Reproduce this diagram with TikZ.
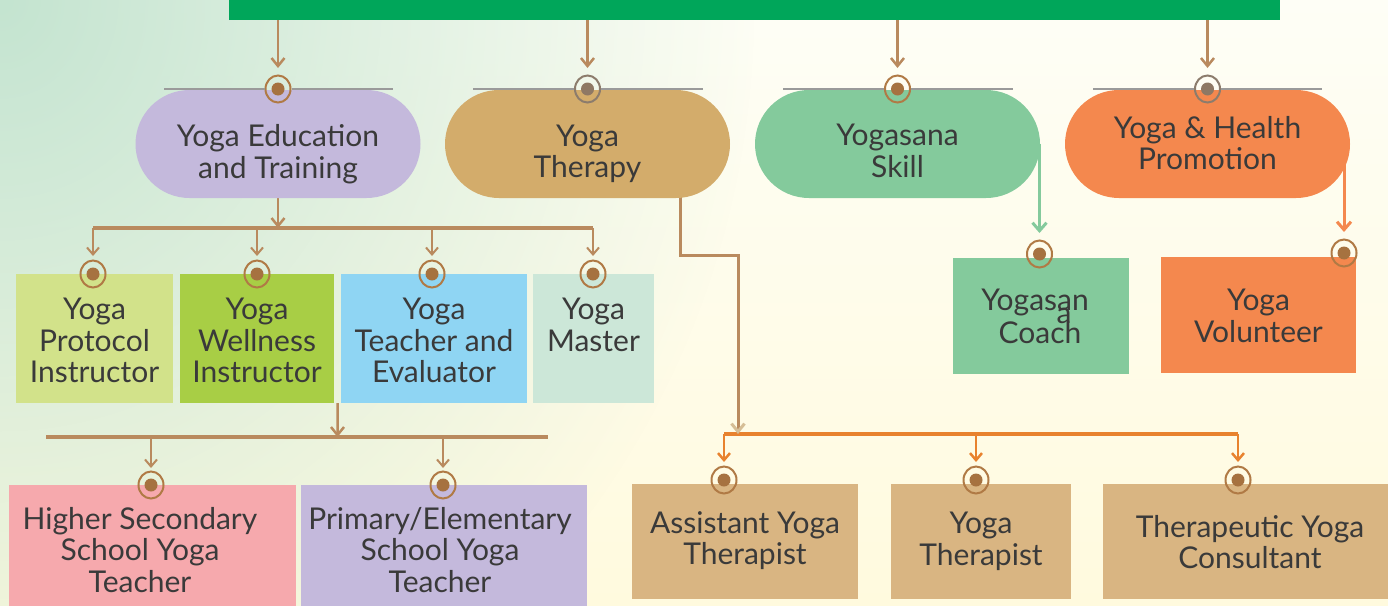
\documentclass[tikz,border=0pt]{standalone}
\usepackage{fontspec}
\setmainfont{Lato}
\usetikzlibrary{arrows.meta,shapes.geometric,calc,fadings}
\definecolor{bannerc}{RGB}{0,166,90}
\definecolor{bgtop}{RGB}{254,254,246}
\definecolor{bgbot}{RGB}{255,250,222}
\definecolor{bggreen}{RGB}{196,228,208}
\definecolor{cLav}{RGB}{196,185,220}
\definecolor{cTan}{RGB}{211,172,107}
\definecolor{cMint}{RGB}{132,202,156}
\definecolor{cOrng}{RGB}{244,136,78}
\definecolor{cProt}{RGB}{210,226,138}
\definecolor{cWell}{RGB}{168,206,69}
\definecolor{cTeach}{RGB}{143,213,243}
\definecolor{cMast}{RGB}{204,231,216}
\definecolor{cPink}{RGB}{246,169,173}
\definecolor{cThBox}{RGB}{217,181,130}
\definecolor{brn}{RGB}{185,138,94}
\definecolor{obus}{RGB}{232,130,46}
\definecolor{ringc}{RGB}{176,122,69}
\definecolor{dotc}{RGB}{166,114,64}
\definecolor{ringg}{RGB}{140,124,108}
\definecolor{dotg}{RGB}{142,120,100}
\definecolor{grayl}{RGB}{154,154,154}
\definecolor{txtc}{RGB}{58,58,58}
\definecolor{tipl}{RGB}{214,190,150}
\pgfdeclarelayer{bglayer}
\pgfdeclarelayer{connlayer}
\pgfsetlayers{bglayer,connlayer,main}
\tikzfading[name=cornerfade, inner color=transparent!0, outer color=transparent!100]
\tikzset{
  pillshape/.style={rounded corners=54pt, minimum width=285pt, minimum height=108pt, inner sep=0pt},
  boxshape/.style={inner sep=0pt},
  lbl/.style={font=\fontsize{30}{31.5}\selectfont, text=txtc, align=center, inner sep=0pt},
  ring/.style={ellipse, draw=ringc, line width=2pt, minimum width=25pt, minimum height=27pt, inner sep=0pt,
    path picture={\fill[dotc] (path picture bounding box.center) circle (6.5pt);}},
  ringgr/.style={ellipse, draw=ringg, line width=2pt, minimum width=25pt, minimum height=27pt, inner sep=0pt,
    path picture={\fill[dotg] (path picture bounding box.center) circle (6.5pt);}},
  arr/.style={draw=brn, line width=2.5pt, -{Straight Barb[length=8pt,width=13pt]}},
  thinarr/.style={draw=brn, line width=2pt, -{Straight Barb[length=7pt,width=12pt]}},
  oarr/.style={draw=obus, line width=2.5pt, -{Straight Barb[length=7pt,width=12pt]}},
  garr/.style={draw=cMint, line width=3pt, -{Straight Barb[length=8pt,width=14pt]}},
  orarr/.style={draw=cOrng, line width=3pt, -{Straight Barb[length=8pt,width=14pt]}},
  bus/.style={draw=brn, line width=4pt},
  obusline/.style={draw=obus, line width=4pt},
  gline/.style={draw=grayl, line width=2pt},
}
\begin{document}
\begin{tikzpicture}[x=1pt,y=-1pt]
\useasboundingbox (0,0) rectangle (1388,605);
\begin{pgfonlayer}{bglayer}
  \clip (0,0) rectangle (1388,605);
  \shade[top color=bgtop,bottom color=bgbot] (0,0) rectangle (1388,605);
  \fill[bggreen,path fading=cornerfade] (0,0) ellipse (760 and 820);
\end{pgfonlayer}
\clip (0,0) rectangle (1388,605);

% banner
\node[fill=bannerc, minimum width=1051pt, minimum height=40pt, inner sep=0pt] (banner) at (754.5,0) {};

% top pills
\node[pillshape, fill=cLav]  (p1) at (278,144) {};
\node[pillshape, fill=cTan]  (p2) at (587.5,144) {};
\node[pillshape, fill=cMint] (p3) at (897.5,144) {};
\node[pillshape, fill=cOrng] (p4) at (1207.5,144) {};
\node[lbl] (p1t) at (278,154) {Yoga Education\\and Training};
\node[lbl] (p2t) at (587.5,154) {Yoga\\Therapy};
\node[lbl] (p3t) at (897.5,151) {Yogasana\\Skill};
\node[lbl] (p4t) at (1207.5,143) {Yoga \& Health\\Promotion};

% top rings and grey lines
\node[ring]   (r1) at (278,89) {};
\node[ringgr] (r2) at (587.5,89) {};
\node[ring]   (r3) at (897.5,89) {};
\node[ringgr] (r4) at (1207.5,89) {};
\coordinate (g1l) at (164,89);  \coordinate (g1r) at (393,89);
\coordinate (g2l) at (473,89);  \coordinate (g2r) at (703,89);
\coordinate (g3l) at (783,89);  \coordinate (g3r) at (1013,89);
\coordinate (g4l) at (1093,89); \coordinate (g4r) at (1322,89);
\draw[gline] (g1l) -- (r1.west) (r1.east) -- (g1r);
\draw[gline] (g2l) -- (r2.west) (r2.east) -- (g2r);
\draw[gline] (g3l) -- (r3.west) (r3.east) -- (g3r);
\draw[gline] (g4l) -- (r4.west) (r4.east) -- (g4r);

% row 2 boxes
\node[boxshape, fill=cProt,  minimum width=157pt, minimum height=129pt] (b21) at (94.5,338.5) {};
\node[boxshape, fill=cWell,  minimum width=154pt, minimum height=129pt] (b22) at (257,338.5) {};
\node[boxshape, fill=cTeach, minimum width=186pt, minimum height=129pt] (b23) at (434,338.5) {};
\node[boxshape, fill=cMast,  minimum width=121pt, minimum height=129pt] (b24) at (593.5,338.5) {};
\node[lbl] (b21t) at (94.5,340.5) {Yoga\\Protocol\\Instructor};
\node[lbl] (b22t) at (257,340.5) {Yoga\\Wellness\\Instructor};
\node[lbl] (b23t) at (434,340.5) {Yoga\\Teacher and\\Evaluator};
\node[lbl] (b24t) at (593.5,325) {Yoga\\Master};
\node[ring] (r21) at (93,274) {};
\node[ring] (r22) at (257,274) {};
\node[ring] (r23) at (432,274) {};
\node[ring] (r24) at (593,274) {};

% row 3 boxes
\node[boxshape, fill=cPink, minimum width=287pt, minimum height=140pt] (b31) at (152.5,555) {};
\node[boxshape, fill=cLav,  minimum width=286pt, minimum height=140pt] (b32) at (444,555) {};
\node[lbl] (b31t) at (140,550) {Higher Secondary\\School Yoga\\Teacher};
\node[lbl] (b32t) at (440,550) {Primary/Elementary\\School Yoga\\Teacher};
\node[ring] (r31) at (151,485) {};
\node[ring] (r32) at (443,485) {};

% therapy boxes
\node[boxshape, fill=cThBox, minimum width=226pt, minimum height=115pt] (b41) at (745,541.5) {};
\node[boxshape, fill=cThBox, minimum width=180pt, minimum height=115pt] (b42) at (981,541.5) {};
\node[boxshape, fill=cThBox, minimum width=290pt, minimum height=115pt] (b43) at (1248,541.5) {};
\node[lbl] (b41t) at (745,540.5) {Assistant Yoga\\Therapist};
\node[lbl] (b42t) at (981,541.5) {Yoga\\Therapist};
\node[lbl] (b43t) at (1250,542) {Therapeutic Yoga\\Consultant};
\node[ring] (r41) at (724,480) {};
\node[ring] (r42) at (976,480) {};
\node[ring] (r43) at (1238,480) {};

% coach and volunteer
\node[boxshape, fill=cMint, minimum width=176pt, minimum height=116pt] (b51) at (1041,316) {};
\node[boxshape, fill=cOrng, minimum width=195pt, minimum height=116pt] (b52) at (1258.5,315) {};
\node[lbl] (b51t) at (1040,316) {Yogasan\hspace*{10pt}\\[-18.5pt]\hspace*{48pt}a\\[-11.5pt]Coach};
\node[lbl] (b52t) at (1258.5,316) {Yoga\\Volunteer};
\node[ring] (r51) at (1039.5,254) {};
\node[ring] (r52) at (1344,253) {};

\begin{pgfonlayer}{connlayer}
  % banner arrows
  \draw[arr, shorten >=6.5pt] (banner.south -| r1) -- (r1.north);
  \draw[arr, shorten >=6.5pt] (banner.south -| r2) -- (r2.north);
  \draw[arr, shorten >=6.5pt] (banner.south -| r3) -- (r3.north);
  \draw[arr, shorten >=6.5pt] (banner.south -| r4) -- (r4.north);
  % education bus
  \coordinate (j1) at (278,228);
  \draw[bus] (r21 |- j1) -- (r24 |- j1);
  \draw[arr] (p1.south) -- (j1);
  \foreach \r in {r21,r22,r23,r24}
    \draw[thinarr, shorten >=3.5pt] (\r |- j1) -- (\r.north);
  % school bus
  \coordinate (s2) at ($(b22.south east)!0.5!(b23.south west)$);
  \coordinate (j2) at (337.5,437);
  \coordinate (b3l) at (46,437);
  \coordinate (b3r) at (548,437);
  \draw[bus] (b3l) -- (b3r);
  \draw[arr] (s2) -- (j2);
  \foreach \r in {r31,r32}
    \draw[thinarr, shorten >=2.5pt] (\r |- j2) -- (\r.north);
  % therapy
  \coordinate (t0) at (680,144);
  \coordinate (t1) at (680,255);
  \coordinate (t2) at (738,255);
  \coordinate (j3) at (738,434);
  \draw[obusline] (r41 |- j3) -- (r43 |- j3);
  \draw[draw=brn, line width=3pt, -{Straight Barb[length=8pt,width=13pt,color=tipl]}] (t0) -- (t1) -- (t2) -- (j3);
  \foreach \r in {r41,r42,r43}
    \draw[oarr, shorten >=3.5pt] (\r |- j3) -- (\r.north);
  % yogasana and health
  \draw[garr, shorten >=6.5pt] (r51 |- p3.east) -- (r51.north);
  \draw[orarr, shorten >=6.5pt] (r52 |- p4.east) -- (r52.north);
\end{pgfonlayer}
\end{tikzpicture}
\end{document}
